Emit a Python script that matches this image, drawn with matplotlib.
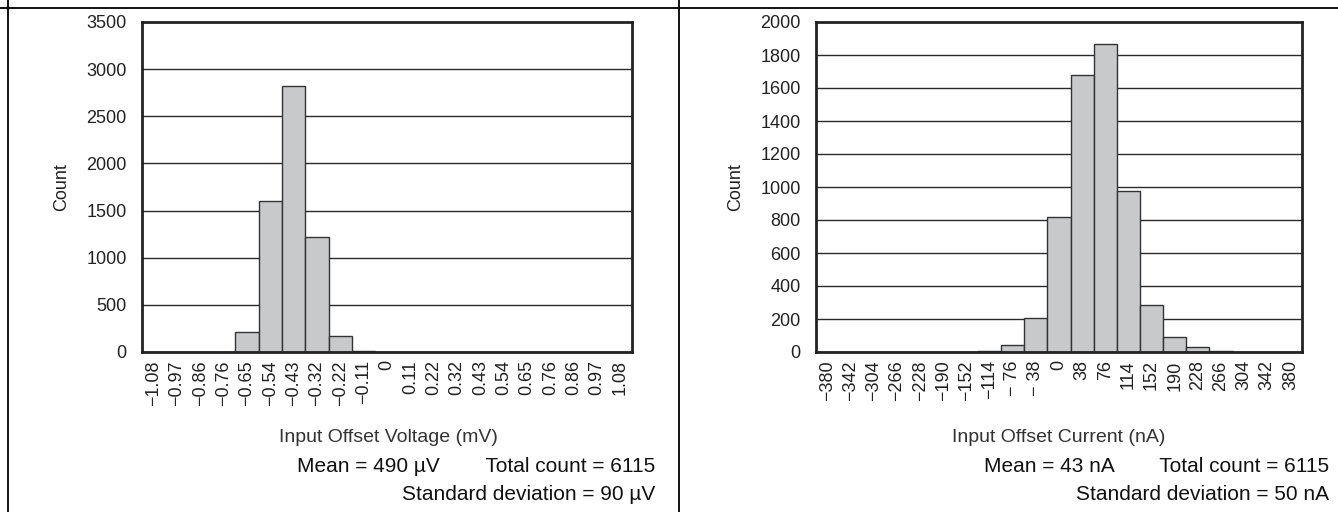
import matplotlib
matplotlib.use("Agg")
import matplotlib.pyplot as plt
from matplotlib.lines import Line2D

plt.rcParams['font.family'] = ['Liberation Sans', 'DejaVu Sans']

# ---- data ----
v_labels = ["−1.08", "−0.97", "−0.86", "−0.76", "−0.65", "−0.54", "−0.43", "−0.32",
            "−0.22", "−0.11", "0", "0.11", "0.22", "0.32", "0.43", "0.54", "0.65",
            "0.76", "0.86", "0.97", "1.08"]
v_counts = [0, 0, 0, 2, 210, 1605, 2825, 1225, 165, 15, 2, 0, 0, 0, 0, 0, 0, 0, 0, 0, 0]
v_yticks = [0, 500, 1000, 1500, 2000, 2500, 3000, 3500]

i_labels = ["−380", "−342", "−304", "−266", "−228", "−190", "−152", "−114", "− 76", "− 38",
            "0", "38", "76", "114", "152", "190", "228", "266", "304", "342", "380"]
i_counts = [0, 0, 0, 0, 0, 0, 2, 8, 40, 205, 820, 1680, 1865, 975, 285, 88, 28, 8, 2, 0, 0]
i_yticks = [0, 200, 400, 600, 800, 1000, 1200, 1400, 1600, 1800, 2000]

v_xlabel = "Input Offset Voltage (mV)"
i_xlabel = "Input Offset Current (nA)"
v_stats = ["Mean = 490 µV        Total count = 6115", "Standard deviation = 90 µV"]
i_stats = ["Mean = 43 nA        Total count = 6115", "Standard deviation = 50 nA"]

W, H = 1338, 512
fig = plt.figure(figsize=(W / 100, H / 100), dpi=100)

def px_ax(x0, y0, x1, y1):
    return fig.add_axes([x0 / W, 1 - y1 / H, (x1 - x0) / W, (y1 - y0) / H])

def txt(x, y, s, **kw):
    fig.text(x / W, 1 - y / H, s, **kw)

FS = 13

def draw(ax, labels, counts, yticks):
    x = list(range(len(labels)))
    ax.set_axisbelow(True)
    for yt in yticks[1:-1]:
        ax.axhline(yt, color='#2a2a2a', lw=1.0, zorder=0)
    ax.bar(x, counts, width=1.0, color='#c8c9cb', edgecolor='#333333', linewidth=1.0, zorder=2)
    ax.set_xlim(-0.5, len(labels) - 0.5)
    ax.set_ylim(yticks[0], yticks[-1])
    ax.set_yticks(yticks)
    ax.set_yticklabels([str(t) for t in yticks], fontsize=FS, color='#222222')
    ax.set_xticks(x)
    ax.set_xticklabels(labels, rotation=90, fontsize=FS, color='#222222')
    ax.tick_params(axis='both', length=0)
    ax.tick_params(axis='y', pad=11)
    ax.tick_params(axis='x', pad=6)
    for s in ax.spines.values():
        s.set_linewidth(2.0)
        s.set_color('#222222')
        s.set_zorder(5)

ax1 = px_ax(142, 22, 632, 352)
draw(ax1, v_labels, v_counts, v_yticks)
ax2 = px_ax(816, 22, 1302, 352)
draw(ax2, i_labels, i_counts, i_yticks)

txt(62, 187, "Count", rotation=90, ha='center', va='center', fontsize=FS, color='#222222')
txt(736, 187, "Count", rotation=90, ha='center', va='center', fontsize=FS, color='#222222')

narrow = ['Liberation Sans Narrow', 'Liberation Sans', 'DejaVu Sans']
txt(388, 438, v_xlabel, ha='center', va='center', fontsize=14, color='#333333', family=narrow)
txt(1059, 438, i_xlabel, ha='center', va='center', fontsize=14, color='#333333', family=narrow)
txt(655, 467, v_stats[0], ha='right', va='center', fontsize=15, color='#111111')
txt(655, 494, v_stats[1], ha='right', va='center', fontsize=15, color='#111111')
txt(1329, 467, i_stats[0], ha='right', va='center', fontsize=15, color='#111111')
txt(1329, 494, i_stats[1], ha='right', va='center', fontsize=15, color='#111111')

# table borders
fig.add_artist(Line2D([0, 1], [1 - 8 / H, 1 - 8 / H], transform=fig.transFigure, color='black', lw=1.3))
fig.add_artist(Line2D([8 / W, 8 / W], [0, 1], transform=fig.transFigure, color='black', lw=1.3))
fig.add_artist(Line2D([679 / W, 679 / W], [0, 1], transform=fig.transFigure, color='black', lw=1.3))

fig.savefig("out.png", dpi=100)
